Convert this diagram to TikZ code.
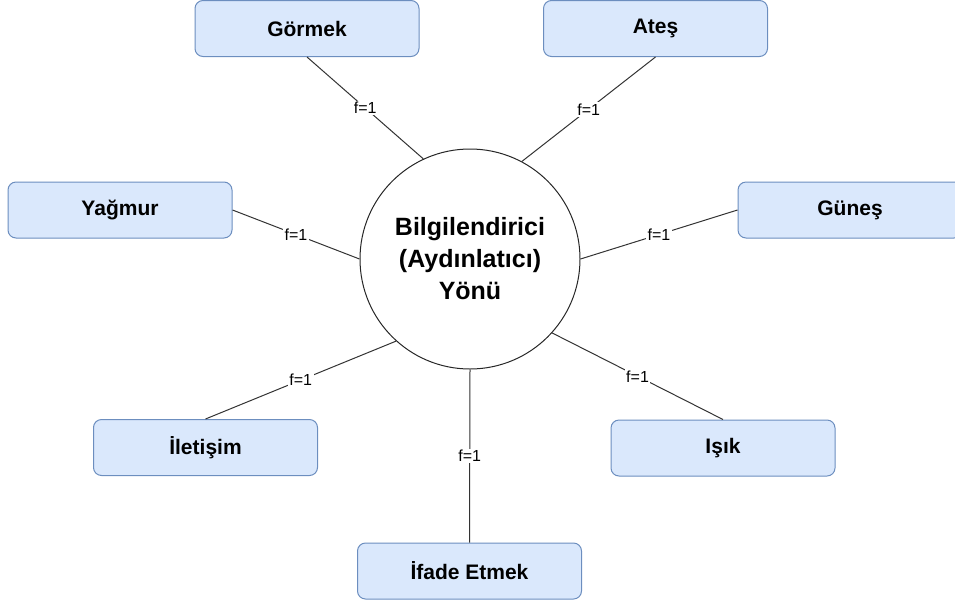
\documentclass[tikz,border=0pt]{standalone}
\usepackage{fontspec}
\setmainfont{Liberation Sans}
\definecolor{boxfill}{HTML}{DAE8FC}
\definecolor{boxline}{HTML}{6C8EBF}
\begin{document}
\begin{tikzpicture}[x=1pt,y=-1pt,
  topic/.style={draw=boxline, fill=boxfill, rounded corners=8pt,
    minimum width=224pt, minimum height=56pt, inner sep=0pt, line width=1pt,
    font=\fontsize{21}{25}\selectfont\bfseries},
  hub/.style={draw=black!85, circle, minimum size=220pt, inner sep=0pt,
    line width=1pt, align=center,
    font=\fontsize{25}{32}\selectfont\bfseries},
  link/.style={draw=black!80, line width=1pt},
  weight/.style={fill=white, inner sep=1.5pt,
    font=\fontsize{16}{19}\selectfont}]
\useasboundingbox (0,0) rectangle (955,603);

% central concept
\node[hub] (c) at (470,259) {Bilgilendirici\\(Aydınlatıcı)\\Yönü};

% surrounding concepts
\node[topic] (gor) at (307,28.5)  {Görmek};
\node[topic] (ate) at (655.5,28.5) {Ateş};
\node[topic] (yag) at (120,210)   {Yağmur};
\node[topic] (gun) at (850,210)   {Güneş};
\node[topic] (ile) at (205.5,447.5) {İletişim};
\node[topic] (isi) at (723,448)   {Işık};
\node[topic] (ifa) at (469.5,571) {İfade Etmek};

% weighted links
\draw[link] (gor.south) -- node[weight]{f=1} (c.115);
\draw[link] (ate.south) -- node[weight]{f=1} (c.62);
\draw[link] (yag.east)  -- node[weight]{f=1} (c.180);
\draw[link] (gun.west)  -- node[weight]{f=1} (c.0);
\draw[link] (ile.north) -- node[weight]{f=1} (c.228);
\draw[link] (isi.north) -- node[weight]{f=1} (c.318);
\draw[link] (ifa.north) -- node[weight]{f=1} (c.south);
\end{tikzpicture}
\end{document}
